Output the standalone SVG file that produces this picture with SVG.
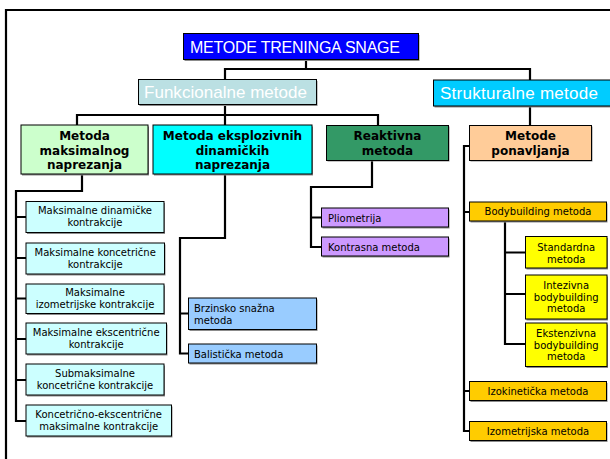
<svg xmlns="http://www.w3.org/2000/svg" width="610" height="459" viewBox="0 0 610 459">
<style>
.sh{fill:#8c8c8c}
.bx{stroke:#000;stroke-width:1}
.c{fill:none;stroke:#000;stroke-width:2.2}
.t{font-family:"DejaVu Sans",Verdana,sans-serif;font-size:10px;fill:#000;text-anchor:middle}
.l{text-anchor:start}
.b{font-family:"DejaVu Sans",Verdana,sans-serif;font-size:12px;font-weight:bold;fill:#000;text-anchor:middle}
.h{font-family:"Liberation Sans",Arial,sans-serif;fill:#fff}
</style>
<rect width="610" height="459" fill="#fff"/>
<path d="M6,459 V10 H610" fill="none" stroke="#000" stroke-width="2.2"/>

<g id="connectors">
<path class="c" d="M306,60 V69"/>
<path class="c" d="M225,79 V69 H530 V80"/>
<path class="c" d="M225,105 V125"/>
<path class="c" d="M77,125 V115 H378 V125"/>
<path class="c" d="M530,106 V125"/>
<path class="c" d="M82,175 V191 H16 V421 H26"/>
<path class="c" d="M16,217 H26 M16,258 H26 M16,298.5 H26 M16,339 H26 M16,380 H26"/>
<path class="c" d="M225,175 V238 H180 V353.5 H188 M180,313.5 H188"/>
<path class="c" d="M372,161 V187 H311 V247 H321 M311,217.5 H321"/>
<path class="c" d="M469,146 H464 V431 H469 M464,212 H469 M464,391 H469"/>
<path class="c" d="M505,221 V344 H525 M505,252.5 H525 M505,294 H525"/>
</g>

<g id="title">
<rect class="sh" x="184.5" y="35" width="235" height="26"/>
<rect class="bx" x="183.5" y="33.5" width="235" height="26" fill="#0000ff"/>
<text class="h" x="190" y="52.5" font-size="16" textLength="210">METODE TRENINGA SNAGE</text>
</g>

<g id="funkcionalne">
<rect class="sh" x="139.5" y="81" width="178" height="25"/>
<rect class="bx" x="138.5" y="79.5" width="178" height="25" fill="#bbe0e3"/>
<text class="h" x="144" y="97.5" font-size="17" textLength="163">Funkcionalne metode</text>
</g>

<g id="strukturalne">
<rect class="sh" x="434.5" y="81.5" width="177" height="26"/>
<rect class="bx" x="433.5" y="80" width="177" height="26" fill="#00ccff"/>
<text class="h" x="440" y="99" font-size="17" textLength="158">Strukturalne metode</text>
</g>

<g id="maksimalnog">
<rect class="sh" x="22" y="126.5" width="127" height="49"/>
<rect class="bx" x="21" y="125" width="127" height="49" fill="#ccffcc"/>
<text class="b" x="84.5" y="140">Metoda</text>
<text class="b" x="84.5" y="154.5">maksimalnog</text>
<text class="b" x="84.5" y="169">naprezanja</text>
</g>

<g id="eksplozivnih">
<rect class="sh" x="154" y="126.5" width="159" height="49"/>
<rect class="bx" x="153" y="125" width="159" height="49" fill="#00ffff"/>
<text class="b" x="232.5" y="140">Metoda eksplozivnih</text>
<text class="b" x="232.5" y="154.5">dinamičkih</text>
<text class="b" x="232.5" y="169">naprezanja</text>
</g>

<g id="reaktivna">
<rect class="sh" x="327.5" y="126.5" width="122" height="35"/>
<rect class="bx" x="326.5" y="125.5" width="122" height="35" fill="#339966"/>
<text class="b" x="387.5" y="139.5">Reaktivna</text>
<text class="b" x="387.5" y="155">metoda</text>
</g>

<g id="ponavljanja">
<rect class="sh" x="470.5" y="126.5" width="122" height="35"/>
<rect class="bx" x="469.5" y="125.5" width="122" height="35" fill="#ffcc99"/>
<text class="b" x="530.5" y="139.5" font-size="13">Metode</text>
<text class="b" x="530.5" y="155" font-size="13">ponavljanja</text>
</g>

<g id="m-dinamicke">
<rect class="sh" x="27" y="203" width="138" height="31"/>
<rect class="bx" x="26" y="201.5" width="138" height="31" fill="#ccffff"/>
<text class="t" x="95" y="213.5">Maksimalne dinamičke</text>
<text class="t" x="95" y="225.5">kontrakcije</text>
</g>

<g id="m-koncetricne">
<rect class="sh" x="27" y="244.5" width="138.5" height="31"/>
<rect class="bx" x="26" y="243" width="138.5" height="31" fill="#ccffff"/>
<text class="t" x="95.2" y="255.5">Maksimalne koncetrične</text>
<text class="t" x="95.2" y="267.5">kontrakcije</text>
</g>

<g id="m-izometrijske">
<rect class="sh" x="27" y="285.5" width="138" height="29.5"/>
<rect class="bx" x="26" y="284" width="138" height="29.5" fill="#ccffff"/>
<text class="t" x="95" y="296">Maksimalne</text>
<text class="t" x="95" y="308">izometrijske kontrakcije</text>
</g>

<g id="m-ekscentricne">
<rect class="sh" x="27" y="324.5" width="140.5" height="31"/>
<rect class="bx" x="26" y="323" width="140.5" height="31" fill="#ccffff"/>
<text class="t" x="96.2" y="335.5">Maksimalne ekscentrične</text>
<text class="t" x="96.2" y="347.5">kontrakcije</text>
</g>

<g id="submaksimalne">
<rect class="sh" x="27" y="365.5" width="138" height="31"/>
<rect class="bx" x="26" y="364" width="138" height="31" fill="#ccffff"/>
<text class="t" x="95" y="376.5">Submaksimalne</text>
<text class="t" x="95" y="388.5">koncetrične kontrakcije</text>
</g>

<g id="koncetricno-ekscentricne">
<rect class="sh" x="27" y="406.5" width="145.5" height="31"/>
<rect class="bx" x="26" y="405" width="145.5" height="31" fill="#ccffff"/>
<text class="t" x="98.7" y="417.5">Koncetrično-ekscentrične</text>
<text class="t" x="98.7" y="429.5">maksimalne kontrakcije</text>
</g>

<g id="brzinsko">
<rect class="sh" x="189.5" y="299.5" width="128" height="31.5"/>
<rect class="bx" x="188.5" y="298" width="128" height="31.5" fill="#99ccff"/>
<text class="t l" x="194" y="311.5">Brzinsko snažna</text>
<text class="t l" x="194" y="323.5">metoda</text>
</g>

<g id="balisticka">
<rect class="sh" x="189.5" y="345.5" width="128" height="19"/>
<rect class="bx" x="188.5" y="344" width="128" height="19" fill="#99ccff"/>
<text class="t l" x="194" y="357.5">Balistička metoda</text>
</g>

<g id="pliometrija">
<rect class="sh" x="322.5" y="209.5" width="127" height="19"/>
<rect class="bx" x="321.5" y="208" width="127" height="19" fill="#cc99ff"/>
<text class="t l" x="328" y="221.5">Pliometrija</text>
</g>

<g id="kontrasna">
<rect class="sh" x="322.5" y="238.5" width="127" height="19"/>
<rect class="bx" x="321.5" y="237" width="127" height="19" fill="#cc99ff"/>
<text class="t l" x="328" y="250.5">Kontrasna metoda</text>
</g>

<g id="bodybuilding">
<rect class="sh" x="470.5" y="203.5" width="137" height="19"/>
<rect class="bx" x="469.5" y="202" width="137" height="19" fill="#ffcc00"/>
<text class="t" x="538" y="215">Bodybuilding metoda</text>
</g>

<g id="standardna">
<rect class="sh" x="526.5" y="238" width="81.5" height="31.5"/>
<rect class="bx" x="525.5" y="236.5" width="81.5" height="31.5" fill="#ffff00"/>
<text class="t" x="566.2" y="250.5">Standardna</text>
<text class="t" x="566.2" y="262.5">metoda</text>
</g>

<g id="intezivna">
<rect class="sh" x="526.5" y="276.5" width="81.5" height="44"/>
<rect class="bx" x="525.5" y="275" width="81.5" height="44" fill="#ffff00"/>
<text class="t" x="566.2" y="289">Intezivna</text>
<text class="t" x="566.2" y="300.7">bodybuilding</text>
<text class="t" x="566.2" y="312.4">metoda</text>
</g>

<g id="ekstenzivna">
<rect class="sh" x="526.5" y="324.5" width="81.5" height="43.5"/>
<rect class="bx" x="525.5" y="323" width="81.5" height="43.5" fill="#ffff00"/>
<text class="t" x="566.2" y="337">Ekstenzivna</text>
<text class="t" x="566.2" y="348.7">bodybuilding</text>
<text class="t" x="566.2" y="360.4">metoda</text>
</g>

<g id="izokineticka">
<rect class="sh" x="470.5" y="383" width="137" height="19"/>
<rect class="bx" x="469.5" y="381.5" width="137" height="19" fill="#ffcc00"/>
<text class="t" x="538" y="395">Izokinetička metoda</text>
</g>

<g id="izometrijska">
<rect class="sh" x="470.5" y="423" width="137" height="19"/>
<rect class="bx" x="469.5" y="421.5" width="137" height="19" fill="#ffcc00"/>
<text class="t" x="538" y="435">Izometrijska metoda</text>
</g>
</svg>
